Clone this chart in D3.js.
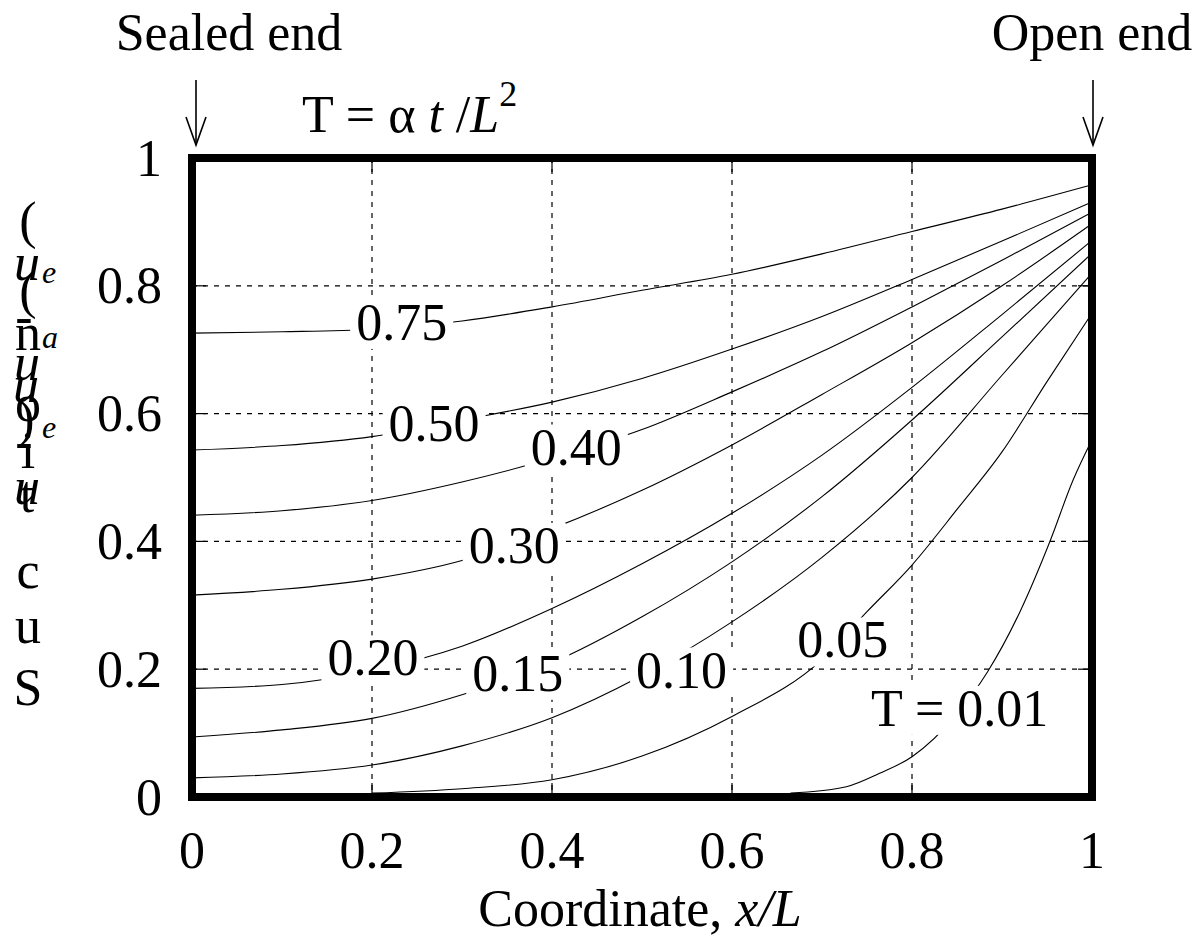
<!DOCTYPE html>
<html>
<head>
<meta charset="utf-8">
<script src="https://cdn.jsdelivr.net/npm/d3@7"></script>
<style>
  body { margin: 0; background: #fff; }
  text { font-family: "Liberation Serif", "Times New Roman", serif; fill: #000; }
</style>
</head>
<body>
<svg id="chart" width="1204" height="940"></svg>
<script>
// Dimensionless time T for each profile
const tLabels = ["0.75", "0.50", "0.40", "0.30", "0.20", "0.15", "0.10", "0.05", "T = 0.01"];

// Suction profiles along the column, [x/L, value]
const profile075 = [[0, .726], [.1, .728], [.2, .732], [.3, .745], [.4, .767], [.5, .793], [.6, .818], [.7, .850], [.8, .885], [.9, .920], [1, .958]];
const profile050 = [[0, .543], [.1, .550], [.2, .564], [.3, .590], [.4, .618], [.5, .655], [.6, .701], [.7, .752], [.8, .810], [.9, .870], [1, .931]];
const profile040 = [[0, .441], [.1, .448], [.2, .464], [.3, .493], [.4, .530], [.5, .575], [.6, .634], [.7, .697], [.8, .767], [.9, .840], [1, .915]];
const profile030 = [[0, .316], [.1, .325], [.2, .341], [.3, .370], [.4, .420], [.5, .480], [.6, .551], [.7, .630], [.8, .711], [.9, .800], [1, .897]];
const profile020 = [[0, .170], [.1, .176], [.2, .198], [.3, .236], [.4, .295], [.5, .365], [.6, .444], [.7, .535], [.8, .641], [.9, .755], [1, .871]];
const profile015 = [[0, .094], [.1, .105], [.2, .123], [.3, .160], [.4, .210], [.5, .282], [.6, .368], [.7, .470], [.8, .590], [.9, .720], [1, .851]];
const profile010 = [[0, .030], [.1, .036], [.2, .050], [.3, .080], [.4, .124], [.5, .190], [.6, .274], [.7, .375], [.8, .500], [.9, .660], [1, .820]];
const profile005 = [[.2, .006], [.3, .013], [.4, .027], [.5, .064], [.6, .126], [.7, .215], [.75, .290], [.8, .363], [.85, .450], [.9, .540], [.95, .650], [1, .757]];
const profile001 = [[.665, .006], [.727, .016], [.764, .037], [.8, .063], [.85, .130], [.884, .196], [.92, .290], [.953, .399], [.979, .496], [1, .559]];

const profiles = [profile075, profile050, profile040, profile030, profile020, profile015, profile010, profile005, profile001];

// Axis ticks
const xTicks = [0, 0.2, 0.4, 0.6, 0.8, 1];
const yTicks = [0, 0.2, 0.4, 0.6, 0.8, 1];
const xTickText = ["0", "0.2", "0.4", "0.6", "0.8", "1"];
const yTickText = ["0", "0.2", "0.4", "0.6", "0.8", "1"];

// Where each profile's label sits (data coordinates of the label centre)
const labelAt = [[.233, .743], [.269, .585], [.427, .548], [.358, .394], [.201, .218], [.362, .194], [.544, .199], [.723, .246], [.853, .139]];

(function draw() {
  const svg = d3.select("#chart");
  const pL = 192, pR = 1092, pT = 158, pB = 797;
  const FS = 52;

  const x = d3.scaleLinear().domain([0, 1]).range([pL, pR]);
  const y = d3.scaleLinear().domain([0, 1]).range([pB, pT]);

  // Dashed grid
  const grid = svg.append("g");
  grid.selectAll("line.v").data(xTicks.slice(1, -1)).join("line").attr("class", "v")
    .attr("x1", d => x(d)).attr("x2", d => x(d)).attr("y1", pT).attr("y2", pB)
    .attr("stroke", "#000").attr("stroke-width", 1.2).attr("stroke-dasharray", "5,6");
  grid.selectAll("line.h").data(yTicks.slice(1, -1)).join("line").attr("class", "h")
    .attr("y1", d => y(d)).attr("y2", d => y(d)).attr("x1", pL).attr("x2", pR)
    .attr("stroke", "#000").attr("stroke-width", 1.2).attr("stroke-dasharray", "5,6");

  // Inward ticks on all four sides
  const tickLen = 14;
  const ticks = svg.append("g").attr("stroke", "#000").attr("stroke-width", 1.2);
  xTicks.forEach(t => {
    ticks.append("line").attr("x1", x(t)).attr("x2", x(t)).attr("y1", pB).attr("y2", pB - tickLen);
    ticks.append("line").attr("x1", x(t)).attr("x2", x(t)).attr("y1", pT).attr("y2", pT + tickLen);
  });
  yTicks.forEach(t => {
    ticks.append("line").attr("y1", y(t)).attr("y2", y(t)).attr("x1", pL).attr("x2", pL + tickLen);
    ticks.append("line").attr("y1", y(t)).attr("y2", y(t)).attr("x1", pR).attr("x2", pR - tickLen);
  });

  // Profiles
  const line = d3.line().x(d => x(d[0])).y(d => y(d[1])).curve(d3.curveMonotoneX);
  svg.append("g").selectAll("path").data(profiles).join("path")
    .attr("d", line).attr("fill", "none").attr("stroke", "#000").attr("stroke-width", 1.1);

  // Inline profile labels on white patches
  const lab = svg.append("g");
  tLabels.forEach((t, i) => {
    const g = lab.append("g");
    const txt = g.append("text")
      .attr("x", x(labelAt[i][0])).attr("y", y(labelAt[i][1]))
      .attr("dy", "0.34em").attr("text-anchor", "middle")
      .attr("font-size", FS).text(t);
    const bb = txt.node().getBBox();
    g.insert("rect", "text")
      .attr("x", bb.x - 6).attr("y", bb.y + 6).attr("width", bb.width + 12).attr("height", bb.height - 8)
      .attr("fill", "#fff");
  });

  // Frame
  svg.append("rect").attr("x", pL).attr("y", pT).attr("width", pR - pL).attr("height", pB - pT)
    .attr("fill", "none").attr("stroke", "#000").attr("stroke-width", 8);

  // Tick labels
  svg.append("g").selectAll("text").data(xTicks).join("text")
    .attr("x", d => x(d)).attr("y", 868).attr("text-anchor", "middle").attr("font-size", FS)
    .text((d, i) => xTickText[i]);
  svg.append("g").selectAll("text").data(yTicks).join("text")
    .attr("x", 162).attr("y", d => y(d)).attr("dy", "0.34em").attr("text-anchor", "end").attr("font-size", FS)
    .text((d, i) => yTickText[i]);

  // Axis title
  const xt = svg.append("text").attr("x", 640).attr("y", 926).attr("text-anchor", "middle").attr("font-size", FS);
  xt.append("tspan").text("Coordinate, ");
  xt.append("tspan").attr("font-style", "italic").text("x/L");

  // Heading formula
  const ht = svg.append("text").attr("x", 302).attr("y", 132).attr("font-size", FS);
  ht.append("tspan").text("T = \u03b1 ");
  ht.append("tspan").attr("font-style", "italic").text("t");
  ht.append("tspan").text(" /");
  ht.append("tspan").attr("font-style", "italic").text("L");
  ht.append("tspan").attr("dy", -26).attr("font-size", 36).text("2");

  // End markers with arrows
  const ends = [["Sealed end", 229, 196], ["Open end", 1092, 1093]];
  ends.forEach(([label, tx, ax]) => {
    svg.append("text").attr("x", tx).attr("y", 50).attr("text-anchor", "middle").attr("font-size", FS).text(label);
    const a = svg.append("g").attr("stroke", "#000").attr("stroke-width", 1.6).attr("fill", "none");
    a.append("line").attr("x1", ax).attr("x2", ax).attr("y1", 80).attr("y2", 145);
    a.append("path").attr("d", `M${ax - 10},117 L${ax},145 L${ax + 10},117`);
  });

  // Vertical axis title, glyphs stacked upright
  const yGlyphs = [
    { ch: "(", x: 28, y: 238 },
    { ch: "u", x: 27, y: 280, it: true },
    { ch: "e", x: 49, y: 283, it: true, fs: 32 },
    { ch: "(", x: 28, y: 308 },
    { ch: "-", x: 24, y: 334 },
    { ch: "n", x: 28, y: 350 },
    { ch: "a", x: 50, y: 348, it: true, fs: 32 },
    { ch: "u", x: 27, y: 380, it: true },
    { ch: "u", x: 26, y: 402, it: true },
    { ch: "o", x: 28, y: 421 },
    { ch: ")", x: 26, y: 436 },
    { ch: "e", x: 49, y: 438, it: true, fs: 32 },
    { ch: "-", x: 24, y: 459 },
    { ch: "i", x: 28, y: 468 },
    { ch: "u", x: 27, y: 504, it: true },
    { ch: "t", x: 27, y: 512 },
    { ch: "c", x: 28, y: 588 },
    { ch: "u", x: 28, y: 643 },
    { ch: "S", x: 28, y: 705 }
  ];
  svg.append("g").selectAll("text").data(yGlyphs).join("text")
    .attr("x", d => d.x).attr("y", d => d.y).attr("text-anchor", "middle")
    .attr("font-size", d => d.fs || FS).attr("font-style", d => d.it ? "italic" : "normal")
    .text(d => d.ch);
})();
</script>
</body>
</html>
